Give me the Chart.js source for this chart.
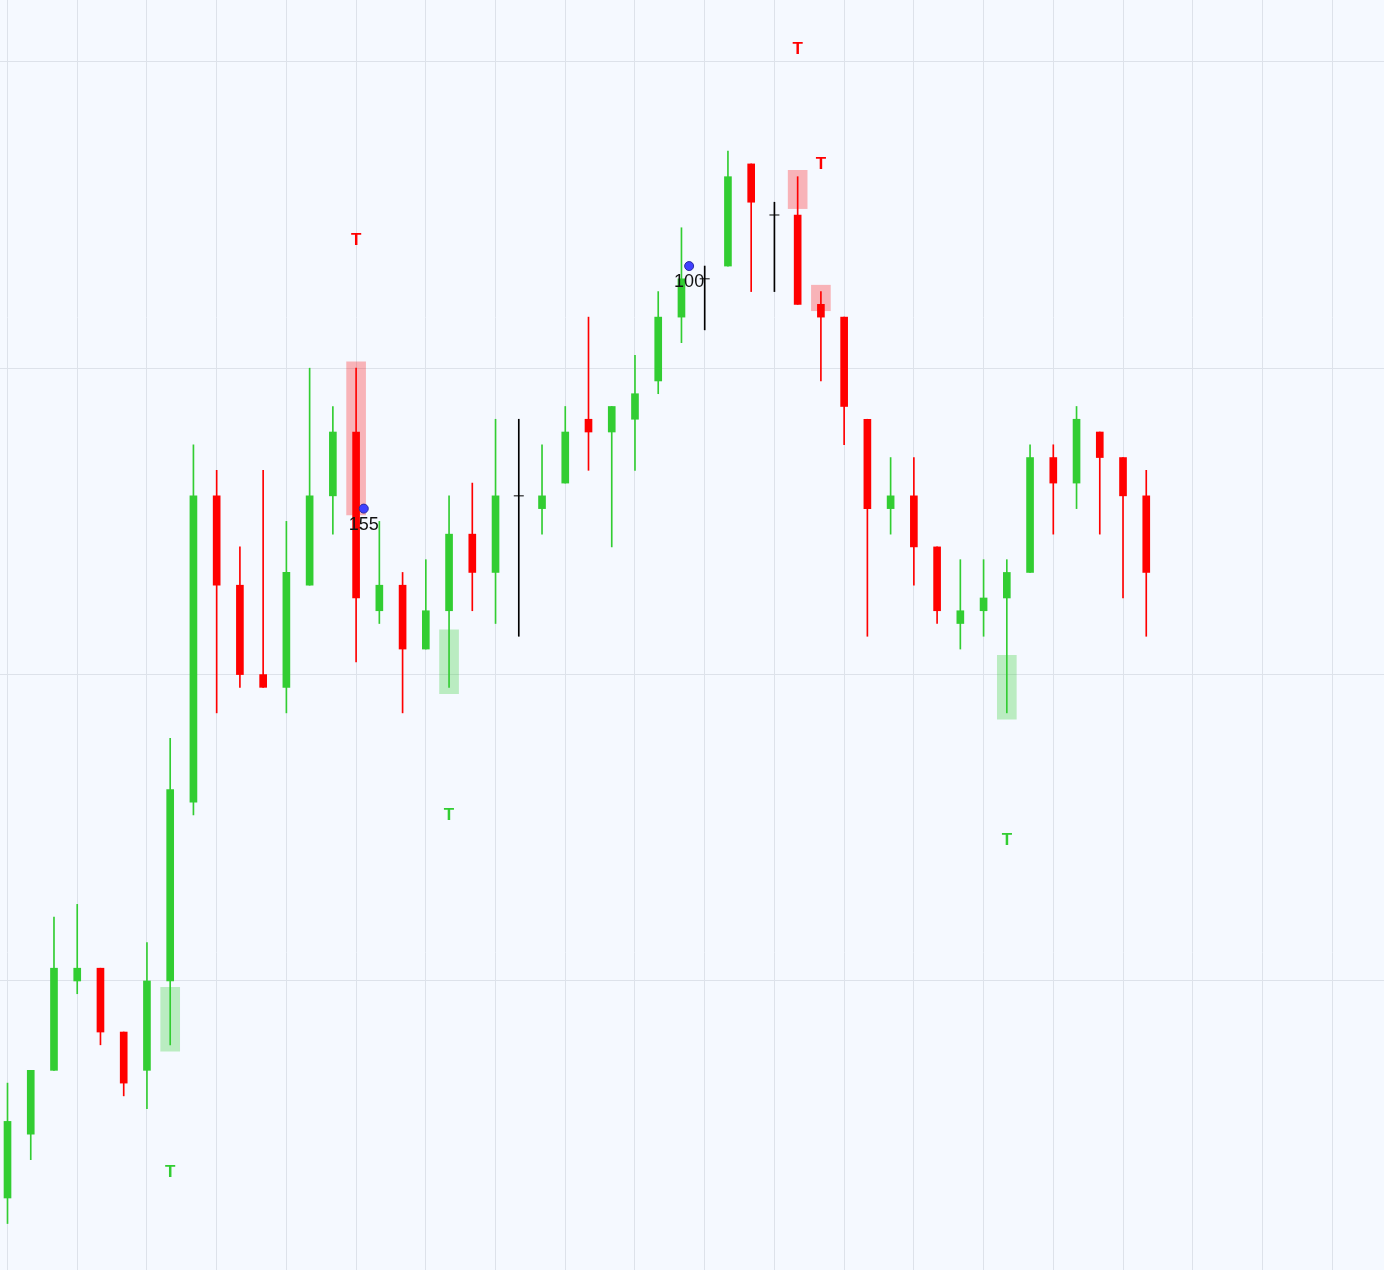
<!DOCTYPE html>
<html>
<head>
<meta charset="utf-8">
<title>Candles</title>
<script src="https://cdn.jsdelivr.net/npm/chart.js@4.4.1/dist/chart.umd.min.js"></script>
<style>
  html, body { margin: 0; padding: 0; background: #f5f9ff; }
  #wrap { width: 1384px; height: 1270px; }
</style>
</head>
<body>
<div id="wrap"><canvas id="candleChart" width="1384" height="1270"></canvas></div>
<script>
// OHLC per bar (one tick = 0.25)
const opens = [95.75, 97, 98.25, 100, 100.25, 99, 98.25, 100, 103.5, 109.5,
    107.75, 106, 105.75, 107.75, 109.5, 110.75, 107.25, 107.75, 106.5, 107.25,
    108.75, 108, 109.5, 109.25, 109.75, 111, 110.75, 111, 111.75, 113,
    113.75, 114, 116, 115, 115, 113.25, 113, 111, 109.25, 109.5,
    108.5, 107, 107.25, 107.5, 108, 110.25, 109.75, 110.75, 110.25, 109.5];
const highs = [98, 98.25, 101.25, 101.5, 100.25, 99, 100.75, 104.75, 110.5, 110,
    108.5, 110, 109, 112, 111.25, 112, 109, 108, 108.25, 109.5,
    109.75, 111, 111, 110.5, 111.25, 113, 111.25, 112.25, 113.5, 114.75,
    114, 116.25, 116, 115.25, 115.75, 113.5, 113, 111, 110.25, 110.25,
    108.5, 108.25, 108.25, 108.25, 110.5, 110.5, 111.25, 110.75, 110.25, 110];
const lows = [95.25, 96.5, 98.25, 99.75, 98.75, 97.75, 97.5, 98.75, 103.25, 105.25,
    105.75, 105.75, 105.25, 107.75, 108.75, 106.25, 107, 105.25, 106.5, 105.75,
    107.25, 107, 106.75, 108.75, 109.75, 110, 108.5, 110, 111.5, 112.5,
    112.75, 114, 113.5, 113.5, 113.25, 111.75, 110.5, 106.75, 108.75, 107.75,
    107, 106.5, 106.75, 105.25, 108, 108.75, 109.25, 108.75, 107.5, 106.75];
const closes = [97.25, 98.25, 100.25, 100.25, 99, 98, 100, 103.75, 109.5, 107.75,
    106, 105.75, 108, 109.5, 110.75, 107.5, 107.75, 106.5, 107.25, 108.75,
    108, 109.5, 109.5, 109.5, 110.75, 110.75, 111.25, 111.5, 113, 113.75,
    113.75, 115.75, 115.25, 115, 113.25, 113, 111.25, 109.25, 109.5, 108.5,
    107.25, 107.25, 107.5, 108, 110.25, 109.75, 111, 110.25, 109.5, 108];

// shaded zones
const buyZoneBars = [7, 19, 43];
const buyZoneLow = [98.625, 105.625, 105.125];
const buyZoneHigh = [99.875, 106.875, 106.375];
const sellZoneBars = [15, 34, 35];
const sellZoneLow = [109.125, 115.125, 113.125];
const sellZoneHigh = [112.125, 115.875, 113.625];

// "T" markers
const buyMarkBars = [7, 19, 43];
const buyMarkPrices = [96.25, 103.25, 102.75];
const sellMarkBars = [15, 34, 35];
const sellMarkPrices = [114.5, 118.25, 116];

// blue dots with counts
const dotBars = [15.33, 29.33];
const dotPrices = [109.25, 114];
const dotLabels = ['155', '100'];

// grid
const xGridLines = [0, 3, 6, 9, 12, 15, 18, 21, 24, 27, 30, 33, 36, 39, 42, 45, 48, 51, 54, 57];
const yGridLines = [100, 106, 112, 118];

const GREEN = 'rgb(50, 205, 50)';
const RED = 'rgb(255, 0, 0)';
const BLACK = '#000000';

function barColor(i) {
    if (closes[i] > opens[i]) return GREEN;
    if (closes[i] < opens[i]) return RED;
    return BLACK;
}

const idx = opens.map((_, i) => i);
const bodyIdx = idx.filter(i => opens[i] !== closes[i]);
const dojiIdx = idx.filter(i => opens[i] === closes[i]);

const markerText = {
    id: 'markerText',
    afterDatasetsDraw(chart) {
        const { ctx, scales: { x, y } } = chart;
        ctx.save();
        ctx.textAlign = 'center';
        ctx.textBaseline = 'middle';
        ctx.font = 'bold 17px "Liberation Sans", Arial, sans-serif';
        ctx.fillStyle = RED;
        sellMarkBars.forEach((b, i) => {
            ctx.fillText('T', x.getPixelForValue(b), y.getPixelForValue(sellMarkPrices[i]));
        });
        ctx.fillStyle = GREEN;
        buyMarkBars.forEach((b, i) => {
            ctx.fillText('T', x.getPixelForValue(b), y.getPixelForValue(buyMarkPrices[i]));
        });
        ctx.font = '18px "Liberation Sans", Arial, sans-serif';
        ctx.fillStyle = '#111111';
        dotBars.forEach((b, i) => {
            ctx.fillText(dotLabels[i], x.getPixelForValue(b), y.getPixelForValue(dotPrices[i]) + 16);
        });
        ctx.restore();
    }
};

const ctx = document.getElementById('candleChart');
new Chart(ctx, {
    type: 'bar',
    data: {
        datasets: [
            {
                label: 'Buy zones',
                data: buyZoneBars.map((b, i) => ({ x: b, y: [buyZoneLow[i], buyZoneHigh[i]] })),
                backgroundColor: 'rgba(50, 205, 50, 0.3)',
                barThickness: 19,
                grouped: false,
                order: 5
            },
            {
                label: 'Sell zones',
                data: sellZoneBars.map((b, i) => ({ x: b, y: [sellZoneLow[i], sellZoneHigh[i]] })),
                backgroundColor: 'rgba(255, 0, 0, 0.28)',
                barThickness: 19,
                grouped: false,
                order: 5
            },
            {
                label: 'Wicks',
                data: idx.map(i => ({ x: i, y: [lows[i], highs[i]] })),
                backgroundColor: idx.map(barColor),
                barThickness: 1,
                grouped: false,
                order: 4
            },
            {
                label: 'Bodies',
                data: bodyIdx.map(i => ({ x: i, y: [opens[i], closes[i]] })),
                backgroundColor: bodyIdx.map(barColor),
                barThickness: 7,
                grouped: false,
                order: 3
            },
            {
                type: 'scatter',
                label: 'Doji',
                data: dojiIdx.map(i => ({ x: i, y: opens[i] })),
                pointStyle: 'line',
                pointRadius: 5,
                borderColor: BLACK,
                borderWidth: 1,
                order: 2
            },
            {
                type: 'scatter',
                label: 'Dots',
                data: dotBars.map((b, i) => ({ x: b, y: dotPrices[i] })),
                pointRadius: 4.5,
                backgroundColor: '#4040ff',
                borderColor: '#2a2aa0',
                borderWidth: 1,
                order: 1
            }
        ]
    },
    options: {
        responsive: false,
        animation: false,
        layout: { padding: 0, autoPadding: false },
        plugins: {
            legend: { display: false },
            tooltip: { enabled: false }
        },
        scales: {
            x: {
                type: 'linear',
                min: -0.323,
                max: 59.23,
                offset: false,
                afterBuildTicks: scale => { scale.ticks = xGridLines.map(v => ({ value: v })); },
                ticks: { display: false },
                grid: { color: '#dde2ea', offset: false, drawTicks: false },
                border: { display: false }
            },
            y: {
                type: 'linear',
                min: 94.34,
                max: 119.21,
                afterBuildTicks: scale => { scale.ticks = yGridLines.map(v => ({ value: v })); },
                ticks: { display: false },
                grid: { color: '#dde2ea', drawTicks: false },
                border: { display: false }
            }
        }
    },
    plugins: [markerText]
});
</script>
</body>
</html>
